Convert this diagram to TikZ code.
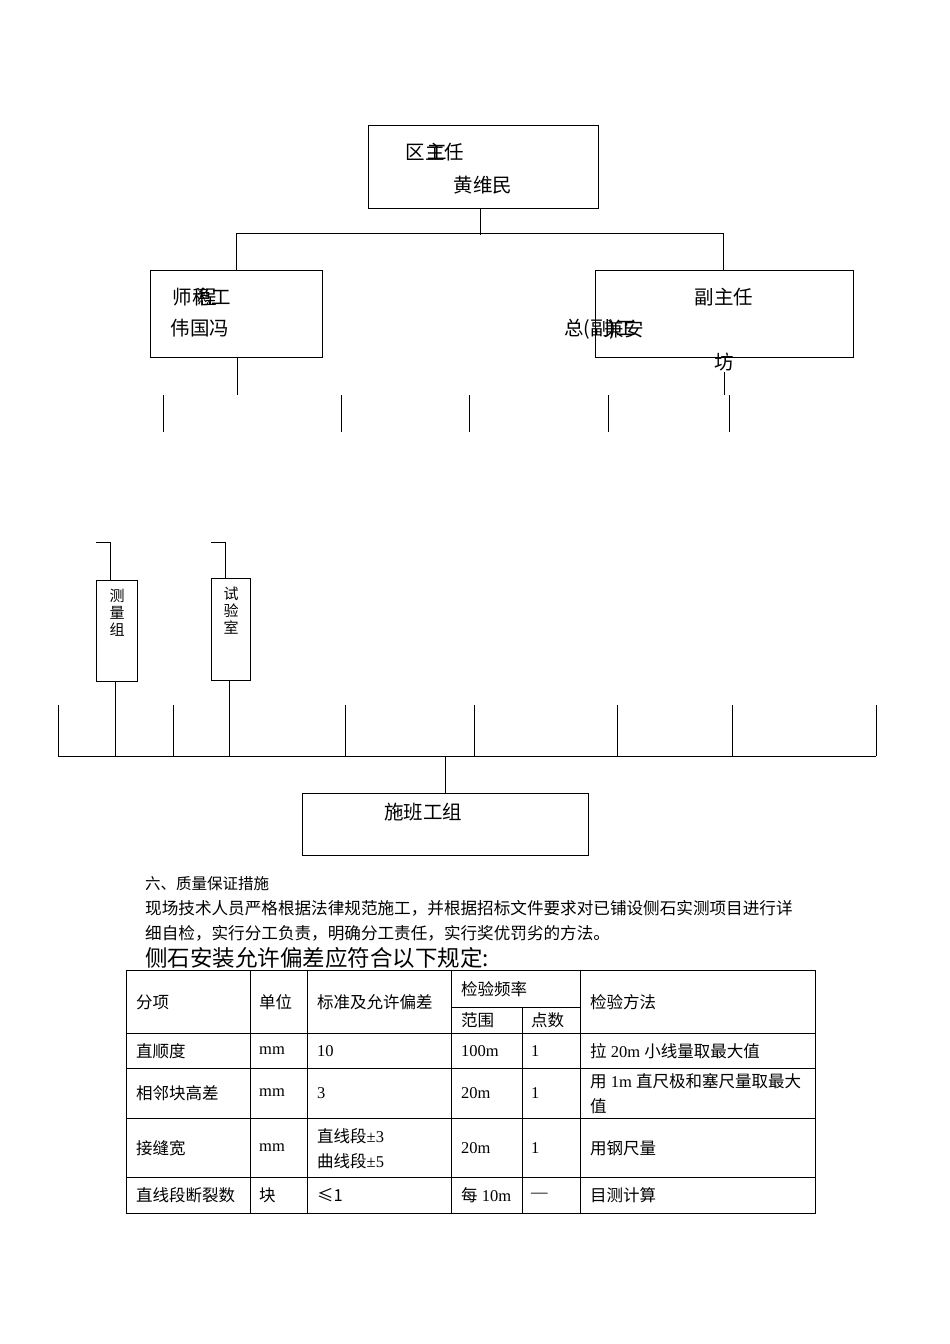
\documentclass[tikz,border=0pt]{standalone}
\usepackage{fontspec}
\setmainfont{Liberation Serif}
\newfontfamily\cjk{Noto Sans CJK SC}
\begin{document}
\begin{tikzpicture}[x=1pt,y=-1pt,
  box/.style={draw,line width=0.9pt},
  ln/.style={line width=0.9pt},
  big/.style={font=\cjk\fontsize{19.5}{22}\selectfont,inner sep=0pt},
  sm/.style={inner sep=0pt,anchor=west},
  tl/.style={font=\fontsize{16.5}{19}\selectfont,inner sep=0pt,anchor=west},
  tc/.style={font=\cjk\fontsize{16.5}{19}\selectfont,inner sep=0pt,anchor=west}]
\useasboundingbox (0,0) rectangle (950,1344);
\fill[white] (0,0) rectangle (950,1344);
% top box
\draw[box] (368,125) rectangle (598,208);
\node[big] (t1) at (435,152) {区主任};
\node[big] (t1b) at (437,152) {工};
\node[big] (t2) at (483,185) {黄维民};
\coordinate (tb) at (480,208);
\coordinate (tj) at (480,235);
\draw[ln] (tb) -- (tj);
\coordinate (hl) at (236,233); \coordinate (hr) at (723,233);
\draw[ln] (hl) -- (hr);
\draw[box] (150,270) rectangle (322,357);
\draw[box] (595,270) rectangle (853,357);
\draw[ln] (hl) -- (236,270);
\draw[ln] (hr) -- (723,270);
\node[big] (l1) at (202,297) {师稳工};
\node[big] (l1b) at (207,297) {程};
\node[big] (l2) at (200,328) {伟国冯};
\node[big] (r1) at (724,297) {副主任};
\node[big] (r2) at (600,329) {总(副)工};
\node[big] (r2b) at (624,329) {兼安};
\node[big] (r3) at (724,362) {坊};
\draw[ln] (237,357) -- (237,395);
\draw[ln] (724,372) -- (724,395);
\foreach \x in {163,341,469,608,729} \draw[ln] (\x,395) -- (\x,432);
% small boxes
\draw[ln] (96,542) -- (110,542) -- (110,580);
\draw[box] (96,580) rectangle (137,681);
\node[font=\cjk\fontsize{15}{17}\selectfont,align=center,inner sep=0pt] (m) at (117,613) {测\\量\\组};
\draw[ln] (211,542) -- (225,542) -- (225,578);
\draw[box] (211,578) rectangle (250,680);
\node[font=\cjk\fontsize{15}{17}\selectfont,align=center,inner sep=0pt] (s) at (231,611) {试\\验\\室};
\draw[ln] (115,681) -- (115,756);
\draw[ln] (229,680) -- (229,756);
\foreach \x in {58,173,345,474,617,732,876} \draw[ln] (\x,705) -- (\x,756);
\draw[ln] (58,756) -- (876,756);
\draw[ln] (445,756) -- (445,793);
\draw[box] (302,793) rectangle (588,855);
\node[big] (g) at (423,812) {施班工组};
% text
\node[sm,font=\cjk\fontsize{15.5}{18}\selectfont] (p0) at (145,884) {六、质量保证措施};
\node[sm,font=\cjk\fontsize{16.6}{18}\selectfont] (p1) at (145,908) {现场技术人员严格根据法律规范施工，并根据招标文件要求对已铺设侧石实测项目进行详};
\node[sm,font=\cjk\fontsize{16.6}{18}\selectfont] (p2) at (145,933) {细自检，实行分工负责，明确分工责任，实行奖优罚劣的方法。};
\node[sm,font=\cjk\fontsize{22.5}{26}\selectfont] (p3) at (145,958) {侧石安装允许偏差应符合以下规定:};
% table
\draw[ln] (126,970) rectangle (815,1213);
\foreach \y in {1033,1068,1118,1177} \draw[ln] (126,\y) -- (815,\y);
\draw[ln] (451,1007) -- (580,1007);
\foreach \x in {250,307,451,580} \draw[ln] (\x,970) -- (\x,1213);
\draw[ln] (522,1007) -- (522,1213);
\node[tc] at (136,1002) {分项};
\node[tc] at (259,1002) {单位};
\node[tc] at (317,1002) {标准及允许偏差};
\node[tc] at (461,989) {检验频率};
\node[tc] at (461,1020) {范围};
\node[tc] at (531,1020) {点数};
\node[tc] at (590,1002) {检验方法};
\node[tc] at (136,1051) {直顺度};
\node[tl] at (259,1051) {mm};
\node[tl] at (317,1051) {10};
\node[tl] at (461,1051) {100m};
\node[tl] at (531,1051) {1};
\node[tl] at (590,1051) {{\cjk 拉} 20m {\cjk 小线量取最大值}};
\node[tc] at (136,1093) {相邻块高差};
\node[tl] at (259,1093) {mm};
\node[tl] at (317,1093) {3};
\node[tl] at (461,1093) {20m};
\node[tl] at (531,1093) {1};
\node[tl] at (590,1081) {{\cjk 用} 1m {\cjk 直尺极和塞尺量取最大}};
\node[tc] at (590,1106) {值};
\node[tc] at (136,1148) {接缝宽};
\node[tl] at (259,1148) {mm};
\node[tl] at (317,1136) {{\cjk 直线段}±3};
\node[tl] at (317,1161) {{\cjk 曲线段}±5};
\node[tl] at (461,1148) {20m};
\node[tl] at (531,1148) {1};
\node[tc] at (590,1148) {用钢尺量};
\node[tc] at (136,1195) {直线段断裂数};
\node[tc] at (259,1195) {块};
\node[tc] at (317,1195) {≤1};
\node[tl] at (461,1195) {{\cjk 每} 10m};
\node[tl] at (531,1195) {—};
\node[tc] at (590,1195) {目测计算};
\end{tikzpicture}
\end{document}
